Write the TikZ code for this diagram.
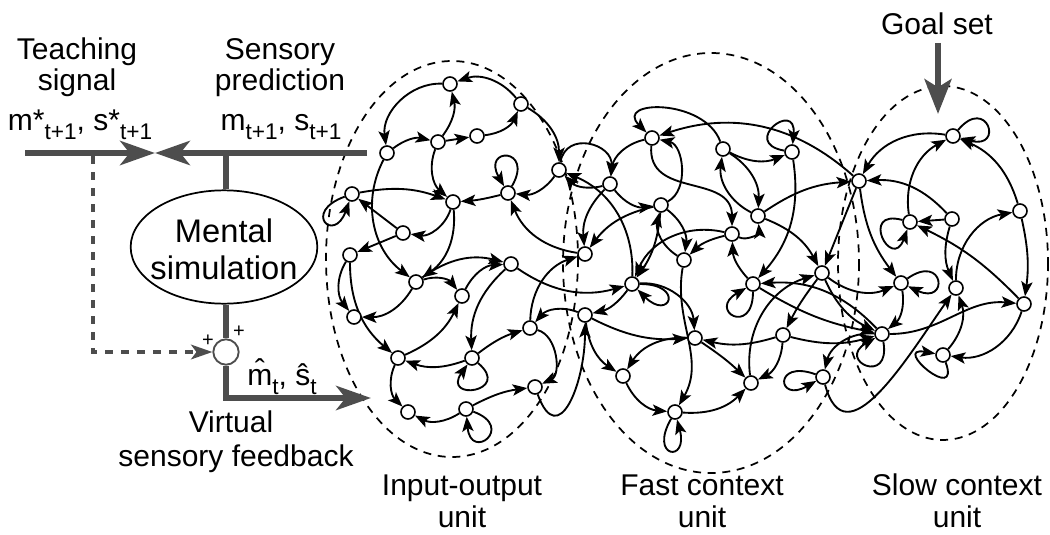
\documentclass[tikz,border=0pt]{standalone}
\usepackage{fontspec}
\setmainfont{Liberation Sans}
\usetikzlibrary{arrows.meta,backgrounds,shapes.geometric}
\definecolor{sig}{HTML}{4D4D4D}
% lowered index in the running text size
\newcommand{\lsub}[1]{\raisebox{-0.33em}{\fontsize{17pt}{17pt}\selectfont #1}}
\begin{document}
\begin{tikzpicture}[x=0.75pt,y=-0.75pt,
  nd/.style={circle,draw,fill=white,line width=1.2pt,inner sep=0pt,minimum size=10.5pt},
  ar/.style={line width=1.4pt,-{Stealth[length=11pt,width=8.5pt,inset=2.5pt]}},
  lp/.style={ar,min distance=34pt},
  unitbound/.style={dash pattern=on 6pt off 5pt,line width=1.3pt},
  sigline/.style={draw=sig,line width=4.8pt},
  bigtip/.style={-{Stealth[length=26pt,width=18pt,inset=7pt]}},
  lab/.style={font=\fontsize{22.5pt}{26pt}\selectfont,anchor=base,inner sep=0pt},
]
\useasboundingbox (0,0) rectangle (1050,535);

% ---------- unit boundaries ----------
\draw[unitbound] (452,259) ellipse [x radius=126, y radius=198];
\draw[unitbound] (711,263) ellipse [x radius=148, y radius=210];
\draw[unitbound] (943,263) ellipse [x radius=105, y radius=177];

% ---------- neurons ----------
\foreach \n/\x/\y in {
  a1/450/84, a2/521/104, a3/387/153, a4/438/142, a5/477/136, a6/559/170,
  a7/508/193, a8/453/202, a9/352/194, a10/403/233, a11/350/255, a12/511/264,
  a13/416/282, a14/462/296, a15/354/317, a16/398/358, a17/472/358,
  a18/530/328, a19/535/387, a20/408/412, a21/466/409,
  b1/652/138, b2/723/149, b3/792/152, b4/610/184, b5/661/205, b6/758/216,
  b7/732/234, b8/585/254, b9/684/260, b10/632/284, b11/753/284, b12/585/315,
  b13/695/338, b14/783/335, b15/623/376, b16/751/383, b17/675/412,
  b18/822/273, b19/823/377,
  c1/953/136, c2/859/181, c3/1020/211, c4/952/219, c5/910/222, c6/901/283,
  c7/956/288, c8/1024/304, c9/882/334, c10/943/355}
  \node[nd] (\n) at (\x,\y) {};

% ---------- recurrent connections ----------
\begin{scope}[on background layer]
% input-output unit
\draw[ar] (a3) to[bend left=25] (a4);
\draw[ar] (a4) to (a5);
\draw[ar] (a5) to[bend right=30] (a2);
\draw[ar] (a2) to[bend right=35] (a1);
\draw[ar] (a1) to[bend right=50] (a3);
\draw[ar] (a4) to[bend right=25] (a1);
\draw[ar] (a2) to[bend left=30] (a6);
\draw[lp] (a7) to[out=60,in=120] (a7);
\draw[ar] (a6) to[bend left=30] (a7);
\draw[ar] (a7) to[bend left=5] (a8);
\draw[ar] (a4) to[bend right=35] (a8);
\draw[ar] (a9) to[bend left=15] (a8);
\draw[ar] (a8) to[bend left=40] (a10);
\draw[ar] (a10) to (a9);
\draw[ar] (a10) to (a11);
\draw[lp] (a9) to[out=200,in=250] (a9);
\draw[ar] (a3) to[bend right=40] (a13);
\draw[ar] (a8) to[bend left=30] (a13);
\draw[ar] (a13) to[bend left=25] (a12);
\draw[ar] (a13) to[bend left=35] (a14);
\draw[ar] (a14) to[bend left=30] (a12);
\draw[ar] (a11) to[bend right=35] (a15);
\draw[ar] (a11) to[bend right=25] (a16);
\draw[ar] (a13) to[bend left=30] (a15);
\draw[ar] (a16) to[bend right=20] (a14);
\draw[ar] (a17) to[bend left=20] (a16);
\draw[lp] (a17) to[out=-40,in=-125] (a17);
\draw[ar] (a12) to[bend right=25] (a17);
\draw[ar] (a17) to[bend left=10] (a18);
\draw[ar] (a16) to[bend right=35] (a20);
\draw[ar] (a21) to[bend left=30] (a20);
\draw[lp] (a21) to[out=-20,in=-85] (a21);
\draw[ar] (a21) to[bend left=10] (a19);
\draw[ar] (a12) to[bend right=25] (b10);
\draw[ar] (a18) to[bend left=35] (b8);
\draw[ar] (b12) to[bend right=35] (a18);
\draw[ar] (a18) to[bend left=70] (a19);
\draw[ar] (a19) to[out=-70,in=-90,looseness=1.8] (b12);
\draw[ar] (b8) to[bend left=30] (a7);
% fast context unit
\draw[ar] (a6) to[out=80,in=85,looseness=1.6] (b4);
\draw[ar] (b4) to[bend left=30] (a6);
\draw[ar] (b10) to[bend right=35] (a6);
\draw[ar] (b1) to[bend right=35] (b4);
\draw[ar] (b4) to[bend right=30] (b5);
\draw[ar] (b4) to[bend right=25] (b8);
\draw[ar] (b5) to[bend right=20] (b8);
\draw[ar] (b2) to[out=110,in=135,looseness=1.6] (b1);
\draw[ar] (c2) to[bend right=30] (b1);
\draw[lp] (b3) to[out=170,in=85] (b3);
\draw[ar] (b2) to[bend right=25] (b3);
\draw[ar] (b2) to[bend left=30] (b6);
\draw[ar] (b6) to[bend left=35] (b2);
\draw[ar] (b3) to[bend left=25] (b11);
\draw[ar] (b6) to[bend left=15] (c2);
\draw[ar] (b6) to[bend left=20] (b18);
\draw[ar] (b5) to[bend right=70] (b1);
\draw[ar] (b1) to[out=-95,in=90,looseness=1.2] (b7);
\draw[ar] (b9) to[bend left=35] (b5);
\draw[ar] (b5) to[bend left=30] (b9);
\draw[ar] (b7) to[bend right=15] (b9);
\draw[ar] (b11) to[bend left=20] (b7);
\draw[ar] (b7) to[bend right=60] (b6);
\draw[ar] (b7) to[bend right=40] (b10);
\draw[ar] (b9) to[out=-100,in=60] (b17);
\draw[ar] (b5) to[bend left=15] (b10);
\draw[lp] (b10) to[out=0,in=-45] (b10);
\draw[ar] (b10) to[bend left=20] (b12);
\draw[ar] (b12) to[bend right=15] (b13);
\draw[ar] (b12) to[bend right=25] (b15);
\draw[ar] (b10) to[bend left=45] (b13);
\draw[ar] (b13) to[bend right=30] (b15);
\draw[ar] (b13) to[bend left=5] (b16);
\draw[ar] (b15) to[bend right=30] (b17);
\draw[lp] (b17) to[out=-120,in=-75] (b17);
\draw[ar] (b17) to[bend right=25] (b16);
\draw[ar] (b14) to[bend left=15] (b13);
\draw[ar] (b14) to[bend left=30] (b16);
\draw[ar] (b16) to[bend left=40] (b18);
\draw[ar] (b18) to[bend right=5] (b14);
\draw[lp] (b11) to[out=-90,in=-150] (b11);
\draw[ar] (b11) to[bend right=10] (c9);
\draw[ar] (c9) to[bend right=25] (b11);
\draw[lp] (b19) to[out=160,in=-150] (b19);
\draw[ar] (b19) to[out=-75,in=-125,looseness=1.3] (c7);
\draw[ar] (c9) to[bend right=40] (b19);
% slow context unit
\draw[ar] (b18) to[bend right=30] (c6);
\draw[ar] (b18) to[bend right=20] (c9);
\draw[ar] (c2) to (b18);
\draw[ar] (c2) to[bend right=15] (c6);
\draw[lp] (c6) to[out=35,in=-25] (c6);
\draw[ar] (c6) to[bend left=30] (c9);
\draw[ar] (b14) to[bend right=15] (c9);
\draw[lp] (c9) to[out=-80,in=-150] (c9);
\draw[ar] (c9) to[out=0,in=175] (c8);
\draw[ar] (c3) to[bend left=10] (c8);
\draw[ar] (c8) to[bend left=40] (c10);
\draw[lp] (c10) to[out=-70,in=170] (c10);
\draw[ar] (c10) to[bend right=30] (c7);
\draw[ar] (c4) to[bend right=20] (c7);
\draw[ar] (c3) to[bend right=25] (c1);
\draw[lp] (c1) to[out=50,in=-15] (c1);
\draw[ar] (c1) to[bend right=35] (c2);
\draw[ar] (c5) to[bend left=35] (c1);
\draw[ar] (c4) to (c5);
\draw[lp] (c5) to[out=165,in=-110] (c5);
\draw[ar] (c4) to[bend right=25] (c2);
\draw[ar] (c8) to[bend right=10] (c5);
\draw[ar] (c7) to[bend left=40] (c3);
\end{scope}

% ---------- signal paths ----------
\coordinate (tin) at (25,153);
\coordinate (meet) at (155,153);
\coordinate (pout) at (367,153);
\coordinate (tee) at (226,153);
\coordinate (dstart) at (93,156);
\coordinate (corner) at (226,398);
\coordinate (fbend) at (371,398);

\node[ellipse,draw,line width=1.3pt,minimum width=140pt,minimum height=85pt,inner sep=0pt]
      (ms) at (224,247) {};
\node[align=center,font=\fontsize{24.5pt}{28pt}\selectfont,inner sep=0pt]
      (mstext) at (224,249) {Mental\\simulation};
\node[circle,draw=sig,line width=1.4pt,minimum size=19pt,inner sep=0pt,fill=white]
      (sum) at (226,352) {};

\draw[sigline,bigtip] (tin) -- (meet);
\draw[sigline,bigtip] (pout) -- (meet);
\draw[sigline] (tee) -- (tee |- ms.north);
\draw[sigline] (ms.south -| sum) -- (sum.north);
\draw[sigline,bigtip,line join=miter] (sum.south) -- (corner) -- (fbend);
\draw[draw=sig,line width=2.4pt,dash pattern=on 6pt off 6pt,
      -{Stealth[length=16pt,width=11pt,inset=4pt]}] (dstart) |- (sum.west);

\node[font=\fontsize{15pt}{15pt}\selectfont,inner sep=0pt] (pl1) at (208,341) {+};
\node[font=\fontsize{15pt}{15pt}\selectfont,inner sep=0pt] (pl2) at (239,332) {+};

% goal input
\coordinate (gtop) at (938,43);
\coordinate (gtip) at (938,114);
\draw[sigline,line width=5pt,-{Stealth[length=26pt,width=20pt,inset=6pt]}] (gtop) -- (gtip);

% ---------- labels ----------
\node[lab] (t1) at (77,60) {Teaching};
\node[lab] (t2) at (77,90) {signal};
\node[lab] (t3) at (80,130) {m*\lsub{t+1}, s*\lsub{t+1}};
\node[lab] (s1) at (280,60) {Sensory};
\node[lab] (s2) at (280,90) {prediction};
\node[lab] (s3) at (281,130) {m\lsub{t+1}, s\lsub{t+1}};
\node[lab] (hm) at (282,385) {\^{m}\lsub{t}, \^{s}\lsub{t}};
\node[lab] (v1) at (231,432) {Virtual};
\node[lab] (v2) at (236,466) {sensory feedback};
\node[lab] (g1) at (937,35) {Goal set};
\node[lab] (u1) at (462,495) {Input-output};
\node[lab] (u2) at (462,527) {unit};
\node[lab] (u3) at (702,495) {Fast context};
\node[lab] (u4) at (702,527) {unit};
\node[lab] (u5) at (957,495) {Slow context};
\node[lab] (u6) at (957,527) {unit};
\end{tikzpicture}
\end{document}
